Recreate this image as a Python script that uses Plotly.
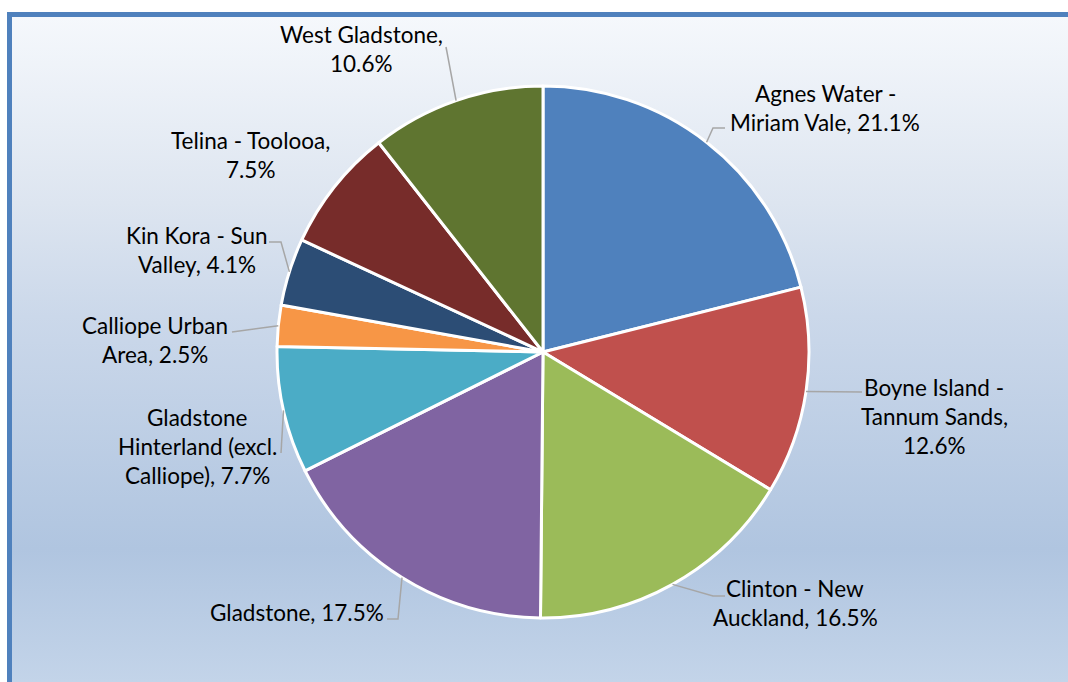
import math

import plotly.graph_objects as go

# Chart data
areas = [
    "Agnes Water - Miriam Vale",
    "Boyne Island - Tannum Sands",
    "Clinton - New Auckland",
    "Gladstone",
    "Gladstone Hinterland (excl. Calliope)",
    "Calliope Urban Area",
    "Kin Kora - Sun Valley",
    "Telina - Toolooa",
    "West Gladstone",
]
shares = [21.1, 12.6, 16.5, 17.5, 7.7, 2.5, 4.1, 7.5, 10.6]
colors = [
    "#4F81BD", "#C0504D", "#9BBB59", "#8064A2", "#4BACC6",
    "#F79646", "#2C4D75", "#772C2A", "#5F7530",
]

# label wrapping, "{p}" gets the percentage
wraps = [
    ["Agnes Water -", "Miriam Vale, {p}"],
    ["Boyne Island -", "Tannum Sands,", "{p}"],
    ["Clinton - New", "Auckland, {p}"],
    ["Gladstone, {p}"],
    ["Gladstone", "Hinterland (excl.", "Calliope), {p}"],
    ["Calliope Urban", "Area, {p}"],
    ["Kin Kora - Sun", "Valley, {p}"],
    ["Telina - Toolooa,", "{p}"],
    ["West Gladstone,", "{p}"],
]

W, H = 1068, 682
CX, CY, R = 543, 352, 266  # pie centre / radius in pixels
LINE_GAP = 29

# label block centres (px) and leader bends after the pie-edge anchor
label_pos = [(825, 107.5), (934, 416), (795, 603), (297, 612), (197, 446.5),
             (155, 339.5), (197, 250), (250, 155), (361, 49)]
leaders = [
    [(713, 128), (725, 128)],
    [(862, 392)],
    [(713, 596), (725, 596)],
    [(398, 619), (387, 619)],
    [(281, 453)],
    [(232, 332)],
    [(281, 242), (269, 242)],
    None,
    [(446, 47)],
]

fig = go.Figure()

# gradient chart area
fig.add_trace(
    go.Scatter(
        x=[12, W + 5, W + 5, 12, 12],
        y=[17, 17, H + 5, H + 5, 17],
        mode="none",
        fill="toself",
        fillgradient={
            "type": "vertical",
            "start": 17,
            "stop": H,
            "colorscale": [
                [0.0, "#F5F8FC"],
                [0.28, "#DDE5F0"],
                [0.45, "#CBD8EA"],
                [0.8, "#B0C5E0"],
                [1.0, "#C3D4E9"],
            ],
        },
        hoverinfo="skip",
        showlegend=False,
    )
)

fig.add_trace(
    go.Pie(
        labels=areas,
        values=shares,
        sort=False,
        direction="clockwise",
        rotation=0,
        marker={"colors": colors, "line": {"color": "white", "width": 3}},
        textinfo="none",
        showlegend=False,
        domain={"x": [(CX - R) / W, (CX + R) / W], "y": [1 - (CY + R) / H, 1 - (CY - R) / H]},
    )
)

shapes = [
    # blue frame: only the left and top sides are inside the picture
    {
        "type": "path", "xref": "x", "yref": "y",
        "path": f"M 9.5,{H + 20} L 9.5,14.5 L {W + 20},14.5",
        "line": {"color": "#4F81BD", "width": 5},
    }
]
annotations = []
total = sum(shares)
cum = 0
for i, v in enumerate(shares):
    mid = (cum + v / 2) / total * 2 * math.pi
    cum += v
    ax, ay = CX + R * math.sin(mid), CY - R * math.cos(mid)
    if leaders[i]:
        pts = [(ax, ay)] + leaders[i]
        path = "M " + " L ".join(f"{x:.1f},{y:.1f}" for x, y in pts)
        shapes.append({
            "type": "path", "xref": "x", "yref": "y", "path": path,
            "line": {"color": "#A6A6A6", "width": 1.5},
        })
    lines = [s.format(p=f"{v:.1f}%") for s in wraps[i]]
    lx, ly = label_pos[i]
    y0 = ly - (len(lines) - 1) * LINE_GAP / 2
    for k, t in enumerate(lines):
        annotations.append({
            "x": lx, "y": y0 + k * LINE_GAP, "xref": "x", "yref": "y",
            "text": t, "showarrow": False, "xanchor": "center", "yanchor": "middle",
            "font": {"family": "Lato", "size": 22.5, "color": "#000000"},
        })

fig.update_xaxes(range=[0, W], visible=False, fixedrange=True)
fig.update_yaxes(range=[H, 0], visible=False, fixedrange=True)

fig.update_layout(
    width=W,
    height=H,
    margin={"l": 0, "r": 0, "t": 0, "b": 0},
    paper_bgcolor="white",
    plot_bgcolor="white",
    shapes=shapes,
    annotations=annotations,
)

# drop the default body margin / scrollbars so the figure sits at the page origin
page_js = (
    "document.body.style.margin='0';"
    "document.body.style.overflow='hidden';"
    "document.documentElement.style.overflow='hidden';"
)
fig.write_html("out.html", post_script=page_js, config={"displayModeBar": False})
